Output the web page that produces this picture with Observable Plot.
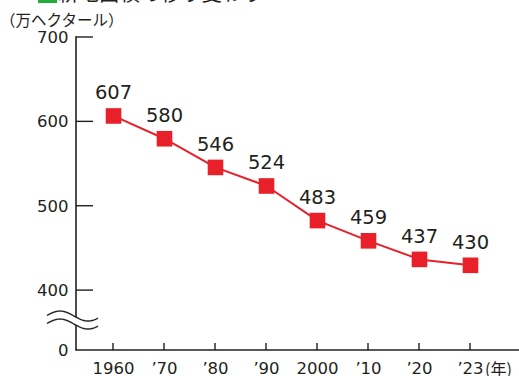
<!DOCTYPE html>
<html><head><meta charset="utf-8">
<script src="https://cdn.jsdelivr.net/npm/d3@7"></script>
<script src="https://cdn.jsdelivr.net/npm/@observablehq/plot@0.6"></script>
<style>html,body{margin:0;padding:0;background:#fff;overflow:hidden}</style>
</head><body><div id="chart"></div>
<script>
// ---- data ----
const years = ["1960", "’70", "’80", "’90", "2000", "’10", "’20", "’23"];
const area = [607, 580, 546, 524, 483, 459, 437, 430];
const yTickValues = [400, 500, 600, 700];
const title = "耕地面積の移り変わり";
const unitLabel = "（万ヘクタール）";
const yearUnit = "(年)";

const data = years.map((year, i) => ({year, value: area[i]}));

// broken axis: the "0" baseline is drawn just below the 400 gridline
const breakBase = 329;
const yTicks = [breakBase, ...yTickValues];

const W = 519, H = 376;
const red = "#e8202a", ink = "#231f20", green = "#22ac38";
const numFont = "'DejaVu Sans', sans-serif";
const jpFont = "'Noto Sans CJK JP', sans-serif";

function decor(index, scales, values, dims) {
  const {x, y} = scales;
  const g = d3.create("svg:g").attr("text-anchor", "start");
  const ax = dims.marginLeft;
  const y0 = y(breakBase);
  const s = g.append("g").attr("fill", "none").attr("stroke", ink);
  // axis lines
  s.append("line").attr("x1", ax).attr("x2", ax).attr("y1", y(d3.max(yTicks)) - 0.8).attr("y2", y0).attr("stroke-width", 1.6);
  s.append("line").attr("x1", ax - 0.8).attr("x2", dims.width).attr("y1", y0).attr("y2", y0).attr("stroke-width", 1.6);
  // y ticks (inward)
  for (const t of yTickValues)
    s.append("line").attr("x1", ax).attr("x2", ax + 17).attr("y1", y(t)).attr("y2", y(t)).attr("stroke-width", 1.4);
  // x ticks (upward)
  for (const yr of years)
    s.append("line").attr("x1", x(yr)).attr("x2", x(yr)).attr("y1", y0).attr("y2", y0 - 7).attr("stroke-width", 1.4);
  // axis break symbol
  const cy = (y(breakBase) + y(yTickValues[0])) / 2;
  const wave = off => d3.range(0, 52, 1).map(i => {
    const px = ax - 29 + i;
    return [px, cy + off - 5 * Math.cos(2 * Math.PI * (px - (ax - 16)) / 56)];
  });
  const up = wave(-4), lo = wave(4);
  g.append("path").attr("d", d3.line()(up.concat(lo.slice().reverse())) + "Z").attr("fill", "#fff");
  g.append("path").attr("d", d3.line()(up)).attr("fill", "none").attr("stroke", ink).attr("stroke-width", 1.4);
  g.append("path").attr("d", d3.line()(lo)).attr("fill", "none").attr("stroke", ink).attr("stroke-width", 1.4);
  // title (cropped at top)
  g.append("rect").attr("x", 38).attr("y", -16).attr("width", 19).attr("height", 19).attr("fill", green);
  g.append("text").attr("x", 58).attr("y", 1).attr("font-family", jpFont).attr("font-size", 20.5)
    .attr("fill", ink).text(title);
  // unit label
  g.append("text").attr("x", 0).attr("y", 25.5).attr("font-family", jpFont).attr("font-size", 15.5)
    .attr("fill", ink).text(unitLabel);
  // year unit
  g.append("text").attr("x", x(years[years.length - 1]) + 15).attr("y", 374.5).attr("font-family", jpFont)
    .attr("font-size", 16).attr("fill", ink).text(yearUnit);
  return g.node();
}

const chart = Plot.plot({
  width: W,
  height: H,
  marginLeft: 76,
  marginRight: 0,
  marginTop: 37,
  marginBottom: 26,
  style: {fontFamily: numFont, fontSize: "16.5px", color: ink, background: "#fff", overflow: "hidden"},
  x: {type: "point", domain: years, range: [110, 472], padding: 0},
  y: {domain: [breakBase, d3.max(yTickValues)]},
  marks: [
    decor,
    Plot.axisY({ticks: yTicks, tickSize: 0, tickPadding: 8, label: null, fontSize: 16.5,
      tickFormat: d => d === breakBase ? "0" : String(d)}),
    Plot.axisX({tickSize: 0, tickPadding: 12, label: null, fontSize: 16.5}),
    Plot.line(data, {x: "year", y: "value", stroke: red, strokeWidth: 2}),
    Plot.dot(data, {x: "year", y: "value", symbol: "square", r: 8.8, fill: red, stroke: "none"}),
    Plot.text(data, {x: "year", y: "value", text: d => String(d.value), dy: -23, fontSize: 19.5, fill: ink, fontFamily: numFont})
  ]
});
document.getElementById("chart").append(chart);
</script>
</body></html>
